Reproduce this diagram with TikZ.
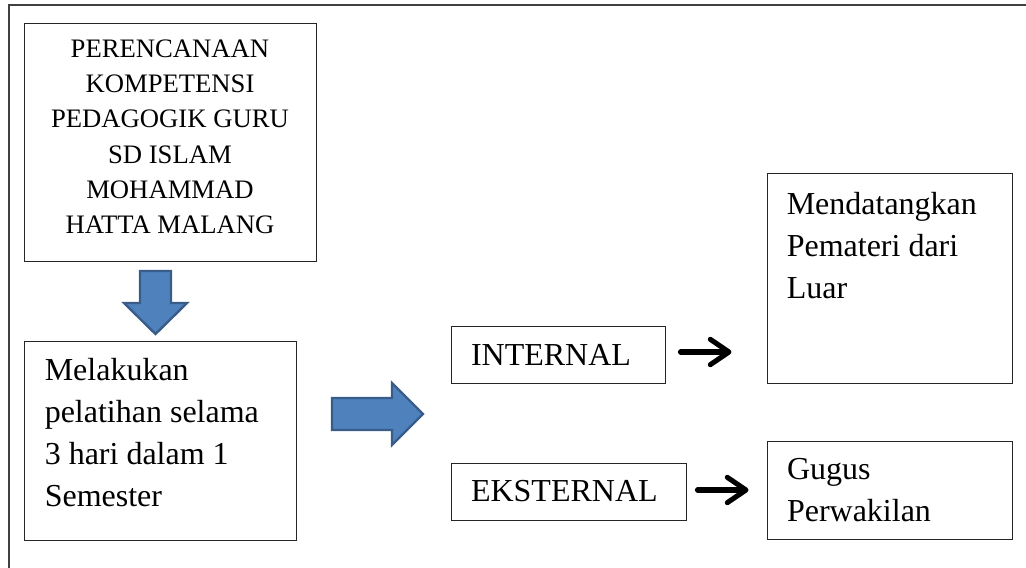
\documentclass[tikz,border=0pt]{standalone}
\usepackage{fontspec}
\setmainfont{Liberation Serif}
\usepackage{xcolor}
\definecolor{arrowblue}{RGB}{79, 129, 189}
\definecolor{arrowedge}{RGB}{56, 93, 138}
\usetikzlibrary{arrows.meta, positioning, calc}

\begin{document}
\begin{tikzpicture}[x=0.75pt, y=-0.75pt,
    box/.style={draw=black!85, line width=0.75pt, rectangle, inner ysep=0pt},
    bigtext/.style={font=\fontsize{24}{31.5}\selectfont},
    blockarrow/.style={fill=arrowblue, draw=arrowedge, line width=1.8pt},
    smallarrow/.style={line width=3.8pt, line cap=round, -{Straight Barb[length=14pt, width=19pt, line join=round, line cap=round]}}]
    \useasboundingbox (0,0) rectangle (1026,568);
    \draw[black!75, line width=0.9pt] (9,568) -- (9,5) -- (1026,5);
    % left column
    \node[box, minimum width=219pt, minimum height=178.5pt, text depth=8pt, align=center, font=\fontsize{20}{26.5}\selectfont] (plan) at (170,142) {PERENCANAAN\\KOMPETENSI\\PEDAGOGIK GURU\\SD ISLAM\\MOHAMMAD\\HATTA MALANG};
    \node[box, minimum width=204pt, minimum height=149.25pt] (latih) at (160,440.5) {};
    \node[bigtext, align=left, inner sep=0pt, anchor=north west] (latihtext) at ($(latih.north west)+(21,18)$) {Melakukan\\pelatihan selama\\3 hari dalam 1\\Semester};
    \coordinate (downtop) at (155.5,271);
    \draw[blockarrow] (downtop) ++(-15.5,0) -- ++(31,0) -- ++(0,32) -- ++(16,0) -- ++(-31.5,31) -- ++(-31.5,-31) -- ++(16,0) -- cycle;
    \coordinate (righttail) at (332,414);
    \draw[blockarrow] (righttail) ++(0,-16) -- ++(60,0) -- ++(0,-15) -- ++(31,31) -- ++(-31,31) -- ++(0,-15) -- ++(-60,0) -- cycle;
    % middle column
    \node[box, bigtext, text width=130.5pt, inner xsep=15pt, minimum height=42.75pt, align=left] (internal) at (558,354.5) {INTERNAL};
    \node[box, bigtext, text width=146.25pt, inner xsep=15pt, minimum height=42.75pt, align=left] (eksternal) at (568.5,491.5) {EKSTERNAL};
    % right column
    \node[box, minimum width=183.75pt, minimum height=157.5pt] (luar) at (889.5,278) {};
    \node[bigtext, align=left, inner sep=0pt, anchor=north west] (luartext) at ($(luar.north west)+(20,20)$) {Mendatangkan\\Pemateri dari\\Luar};
    \node[box, bigtext, text width=153.75pt, inner xsep=15pt, minimum height=73.5pt, align=left] (gugus) at (889.5,490) {Gugus\\Perwakilan};
    \draw[smallarrow] ($(internal.east)+(15,-2.5)$) -- ($(luar.west |- internal.east)+(-35,-2.5)$);
    \draw[smallarrow] ($(eksternal.east)+(11,-1.5)$) -- ($(gugus.west |- eksternal.east)+(-18,-1.5)$);
\end{tikzpicture}
\end{document}
